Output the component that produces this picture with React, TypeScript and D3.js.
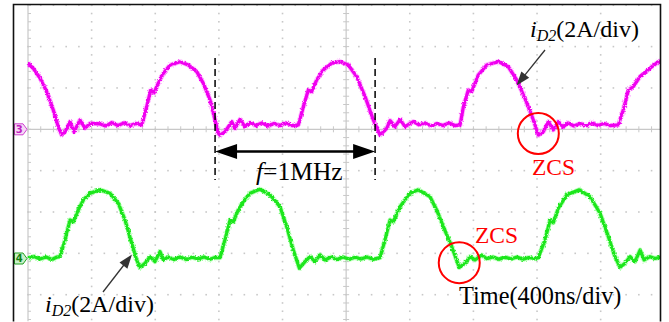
import React from "react";
import * as d3 from "d3";

// Acquisition: 400 ns/div horizontally, 2 A/div vertically, 10 x 8 divisions
const timeDivNs = 400;
const ampsPerDiv = 2;
const horizDivs = 10;

// Channel 3 (magenta) trace: [time ns, current A]
const ch3Trace: [number, number][] = [
  [0, 3.2], [33, 2.95], [75, 2.48], [118, 1.82], [159, 0.93], [190, 0.13], [212, -0.28],
  [233, -0.12], [264, 0.37], [289, -0.12], [327, 0.45], [358, 0.06], [390, 0.29], [453, 0.26],
  [490, 0.16], [528, 0.33], [566, 0.18], [604, 0.31], [641, 0.18], [679, 0.28], [715, 0.21],
  [746, 1.09], [771, 1.9], [792, 1.76], [819, 2.23], [851, 2.71], [893, 3.11], [956, 3.27],
  [1008, 3.11], [1061, 2.79], [1102, 2.23], [1144, 1.42], [1176, 0.45], [1196, -0.19], [1207, -0.28],
  [1238, -0.12], [1281, 0.37], [1301, 0.05], [1333, 0.48], [1364, 0.13], [1396, 0.32],
  [1433, 0.18], [1471, 0.31], [1509, 0.16], [1546, 0.28], [1584, 0.18], [1622, 0.31], [1660, 0.18], [1699, 0.21],
  [1731, 1.09], [1762, 1.9], [1783, 1.82], [1815, 2.39], [1856, 2.87], [1909, 3.2], [1961, 3.27],
  [2014, 3.11], [2066, 2.55], [2119, 1.58], [2171, 0.45], [2213, -0.28], [2255, 0.05], [2276, 0.42],
  [2307, 0.13], [2339, 0.48], [2370, 0.13], [2422, 0.37],
  [2458, 0.21], [2496, 0.31], [2533, 0.16], [2571, 0.28], [2609, 0.18], [2647, 0.31], [2684, 0.18], [2716, 0.21],
  [2737, 1.09], [2768, 1.9], [2789, 1.82], [2831, 2.63], [2884, 3.11], [2957, 3.27], [3019, 3.03],
  [3072, 2.39], [3124, 1.5], [3177, 0.45], [3208, -0.28], [3239, -0.12], [3271, 0.37], [3302, -0.03],
  [3334, 0.37], [3363, 0.11], [3395, 0.31], [3432, 0.16], [3470, 0.28], [3508, 0.18], [3546, 0.31],
  [3583, 0.18], [3621, 0.28], [3659, 0.18], [3711, 0.21],
  [3742, 0.93], [3774, 1.9], [3805, 2.06], [3847, 2.55], [3910, 2.95], [3962, 3.27], [3998, 3.36],
];

// Channel 4 (green) trace: [time ns, current A]
const ch4Trace: [number, number][] = [
  [0, 0.01], [38, 0.1], [75, -0.02], [113, 0.07], [151, -0.05], [182, 0.07], [201, 0.09],
  [233, 0.9], [264, 1.86], [285, 1.78], [316, 2.35], [348, 2.83], [390, 3.16], [453, 3.32],
  [515, 3.16], [568, 2.67], [610, 1.86], [652, 0.74], [683, -0.07], [704, -0.43], [736, -0.23],
  [767, 0.09], [798, -0.15], [830, 0.33], [851, -0.07],
  [880, 0.07], [918, -0.05], [956, 0.07], [993, -0.04], [1031, 0.06], [1069, -0.02], [1106, 0.07],
  [1144, -0.04], [1176, 0.05], [1207, 0.04],
  [1238, 0.9], [1270, 1.86], [1291, 1.78], [1322, 2.35], [1353, 2.75], [1396, 3.16], [1458, 3.35],
  [1521, 3.08], [1584, 2.51], [1626, 1.54], [1668, 0.41], [1706, -0.47], [1741, -0.15], [1773, 0.09],
  [1804, -0.15], [1836, 0.17], [1867, -0.07],
  [1905, 0.07], [1943, -0.05], [1980, 0.07], [2018, -0.04], [2056, 0.06], [2093, -0.02], [2131, 0.07],
  [2169, -0.04], [2213, 0.04],
  [2244, 0.9], [2276, 1.86], [2296, 1.78], [2339, 2.51], [2401, 3.16], [2454, 3.32], [2527, 2.99],
  [2569, 2.35], [2611, 1.54], [2664, 0.57], [2711, -0.43], [2747, -0.23], [2779, 0.09], [2810, -0.07],
  [2852, 0.17],
  [2885, -0.01], [2923, 0.07], [2961, -0.04], [2999, 0.06], [3036, -0.02], [3074, 0.07], [3112, -0.04],
  [3149, 0.05], [3187, -0.01], [3208, 0.04],
  [3250, 0.9], [3282, 1.86], [3302, 1.73], [3334, 2.43], [3387, 3.08], [3466, 3.32], [3533, 2.99],
  [3596, 2.19], [3648, 1.06], [3690, 0.09], [3722, -0.43], [3753, -0.23], [3785, 0.09], [3816, -0.15],
  [3848, 0.41], [3873, -0.07], [3910, 0.09], [3942, 0.0], [3973, 0.06], [3998, 0.02],
];

// Period marker (one switching period = 1 µs)
const periodStartNs = 1176;
const periodEndNs = 2182;

// Zero-current-switching highlights: [time ns, current A]
const zcsCh3: [number, number] = [3208, -0.2];
const zcsCh4: [number, number] = [2711, -0.2];

const W = 669;
const H = 322;
const frame = { left: 13.5, top: 4.5, right: 660.5, bottom: 321.5 };
const plotLeft = 28;
const divW = 63.63;
const divH = 41.35;
const ch3Zero = 129.3;
const ch4Zero = 258.5;

const x = d3.scaleLinear().domain([0, timeDivNs * horizDivs]).range([plotLeft, plotLeft + divW * horizDivs]);
const y3 = d3.scaleLinear().domain([0, ampsPerDiv]).range([ch3Zero, ch3Zero - divH]);
const y4 = d3.scaleLinear().domain([0, ampsPerDiv]).range([ch4Zero, ch4Zero - divH]);

const serif = "'Liberation Serif', 'Times New Roman', serif";
const gridColor = "#c8c8c8";

function Arrow({ x1, y1, x2, y2, len, half, color, width }: any) {
  const a = Math.atan2(y2 - y1, x2 - x1);
  const bx = x2 - len * Math.cos(a);
  const by = y2 - len * Math.sin(a);
  const px = -Math.sin(a) * half;
  const py = Math.cos(a) * half;
  return (
    <g>
      <line x1={x1} y1={y1} x2={bx + Math.cos(a) * 2} y2={by + Math.sin(a) * 2} stroke={color} strokeWidth={width} />
      <path d={`M${x2},${y2}L${bx + px},${by + py}L${bx - px},${by - py}Z`} fill={color} />
    </g>
  );
}

function ChannelMarker({ yc, label, stroke, fill, text }: any) {
  const l = frame.left + 1;
  const r = plotLeft - 1;
  const h = 5.5;
  return (
    <g>
      <path
        d={`M${l},${yc - h}L${r - 4},${yc - h}L${r},${yc}L${r - 4},${yc + h}L${l},${yc + h}Z`}
        fill={fill}
        stroke={stroke}
        strokeWidth={1}
      />
      <text x={(l + r - 3) / 2} y={yc + 3.8} fontSize={10} fontFamily="'DejaVu Sans', sans-serif" fontWeight="bold" textAnchor="middle" fill={text}>
        {label}
      </text>
    </g>
  );
}

export default function App() {
  const line = d3
    .line<[number, number]>()
    .x((d) => x(d[0]))
    .curve(d3.curveLinear);
  const p3 = line.y((d) => y3(d[1]))(ch3Trace) as string;
  const p4 = line.y((d) => y4(d[1]))(ch4Trace) as string;

  const rowYs = d3.range(-3, 5).map((k) => ch3Zero + k * divH);
  const colXs = d3.range(0, horizDivs + 1).map((k) => plotLeft + k * divW);
  const centerX = colXs[5];

  const dots: JSX.Element[] = [];
  // dotted horizontal rows
  rowYs.forEach((ry, i) => {
    if (Math.abs(ry - ch3Zero) < 1) return;
    for (let xx = plotLeft; xx < frame.right; xx += divW / 5) {
      dots.push(<rect key={`h${i}-${xx}`} x={xx - 0.8} y={ry - 0.8} width={1.6} height={1.6} fill={gridColor} />);
    }
  });
  // dotted vertical columns
  colXs.forEach((cx, i) => {
    if (i === 0 || i === 5 || cx > frame.right) return;
    for (let yy = rowYs[0]; yy < frame.bottom; yy += divH / 5) {
      dots.push(<rect key={`v${i}-${yy}`} x={cx - 0.8} y={yy - 0.8} width={1.6} height={1.6} fill={gridColor} />);
    }
  });

  const hTicks = d3.range(plotLeft, frame.right, divW / 5);
  const vTicks = d3.range(rowYs[0], frame.bottom, divH / 5);

  const fs = 24;

  return (
    <svg width={W} height={H} style={{ position: "absolute", left: 0, top: 0, display: "block", background: "#fff" }}>
      <defs>
        <clipPath id="screen">
          <rect x={frame.left} y={frame.top} width={frame.right - frame.left} height={frame.bottom - frame.top} />
        </clipPath>
        {/* slight jitter so the traces look like sampled scope waveforms */}
        <filter id="fuzz" x="-5%" y="-10%" width="110%" height="120%">
          <feTurbulence type="fractalNoise" baseFrequency="0.6" numOctaves={2} seed={3} result="n" />
          <feDisplacementMap in="SourceGraphic" in2="n" scale={3} xChannelSelector="R" yChannelSelector="G" />
        </filter>
      </defs>
      <rect x={0} y={0} width={W} height={H} fill="#fff" />

      <g clipPath="url(#screen)">
        {dots}
        {/* horizontal axis through channel 3 reference */}
        <line x1={plotLeft} x2={frame.right} y1={ch3Zero} y2={ch3Zero} stroke={gridColor} strokeWidth={1.2} />
        {hTicks.map((t, i) => (
          <line key={`ht${i}`} x1={t} x2={t} y1={ch3Zero - 3} y2={ch3Zero + 3} stroke={gridColor} strokeWidth={1} />
        ))}
        {/* left edge and centre vertical axes */}
        {[plotLeft, centerX].map((cx, j) => (
          <g key={`va${j}`}>
            <line x1={cx} x2={cx} y1={frame.top} y2={frame.bottom} stroke={gridColor} strokeWidth={1.2} />
            {vTicks.map((t, i) => (
              <line key={`vt${j}-${i}`} x1={j === 0 ? cx : cx - 3} x2={cx + 3} y1={t} y2={t} stroke={gridColor} strokeWidth={1} />
            ))}
          </g>
        ))}

        {/* traces */}
        <g filter="url(#fuzz)">
          <path d={p3} fill="none" stroke="#ff70ff" strokeWidth={5} strokeOpacity={0.5} strokeLinejoin="round" />
          <path d={p3} fill="none" stroke="#f000f0" strokeWidth={3.2} strokeLinejoin="round" />
          <path d={p4} fill="none" stroke="#70ff70" strokeWidth={5} strokeOpacity={0.5} strokeLinejoin="round" />
          <path d={p4} fill="none" stroke="#1ee61e" strokeWidth={3.2} strokeLinejoin="round" />
        </g>
      </g>

      <ChannelMarker yc={ch3Zero} label="3" stroke="#d040d0" fill="#f6d8f6" text="#c020c0" />
      <ChannelMarker yc={ch4Zero} label="4" stroke="#20a020" fill="#c8f0c8" text="#108010" />

      {/* screen frame */}
      <path
        d={`M${frame.left},${frame.bottom}V${frame.top}H${frame.right}V${frame.bottom}`}
        fill="none"
        stroke="#111"
        strokeWidth={1.6}
      />

      {/* period marker */}
      {[periodStartNs, periodEndNs].map((t, i) => (
        <line key={`pd${i}`} x1={x(t)} x2={x(t)} y1={58} y2={180} stroke="#000" strokeWidth={1.5} strokeDasharray="7,4" />
      ))}
      <Arrow x1={x(periodStartNs) + 12} y1={151.5} x2={x(periodStartNs)} y2={151.5} len={22} half={7.5} color="#000" width={2.6} />
      <Arrow x1={x(periodEndNs) - 12} y1={151.5} x2={x(periodEndNs)} y2={151.5} len={22} half={7.5} color="#000" width={2.6} />
      <line x1={x(periodStartNs) + 20} x2={x(periodEndNs) - 20} y1={151.5} y2={151.5} stroke="#000" strokeWidth={2.6} />
      <text x={256} y={180} fontSize={25.5} fontFamily={serif} fill="#000">
        <tspan fontStyle="italic">f</tspan>=1MHz
      </text>

      {/* ZCS highlights */}
      <circle cx={x(zcsCh3[0])} cy={y3(zcsCh3[1])} r={20.5} fill="none" stroke="#f00" strokeWidth={2} />
      <circle cx={x(zcsCh4[0])} cy={y4(zcsCh4[1])} r={20.5} fill="none" stroke="#f00" strokeWidth={2} />
      <text x={532} y={175} fontSize={23.5} fontFamily={serif} fill="#f00">ZCS</text>
      <text x={475} y={243} fontSize={23.5} fontFamily={serif} fill="#f00">ZCS</text>

      {/* channel labels */}
      <Arrow x1={545} y1={50} x2={516.5} y2={85.5} len={14} half={5} color="#333" width={1.3} />
      <text x={530} y={37} fontSize={fs} fontFamily={serif} fill="#000">
        <tspan fontStyle="italic">i</tspan>
        <tspan fontStyle="italic" fontSize={16} dy={3.5}>D2</tspan>
        <tspan dy={-3.5}>(2A/div)</tspan>
      </text>
      <Arrow x1={103} y1={292} x2={132} y2={254.5} len={14} half={5} color="#333" width={1.3} />
      <text x={45} y={312} fontSize={fs} fontFamily={serif} fill="#000">
        <tspan fontStyle="italic">i</tspan>
        <tspan fontStyle="italic" fontSize={16} dy={3.5}>D2</tspan>
        <tspan dy={-3.5}>(2A/div)</tspan>
      </text>
      <text x={459} y={303.5} fontSize={24.3} fontFamily={serif} fill="#000">Time(400ns/div)</text>
    </svg>
  );
}
